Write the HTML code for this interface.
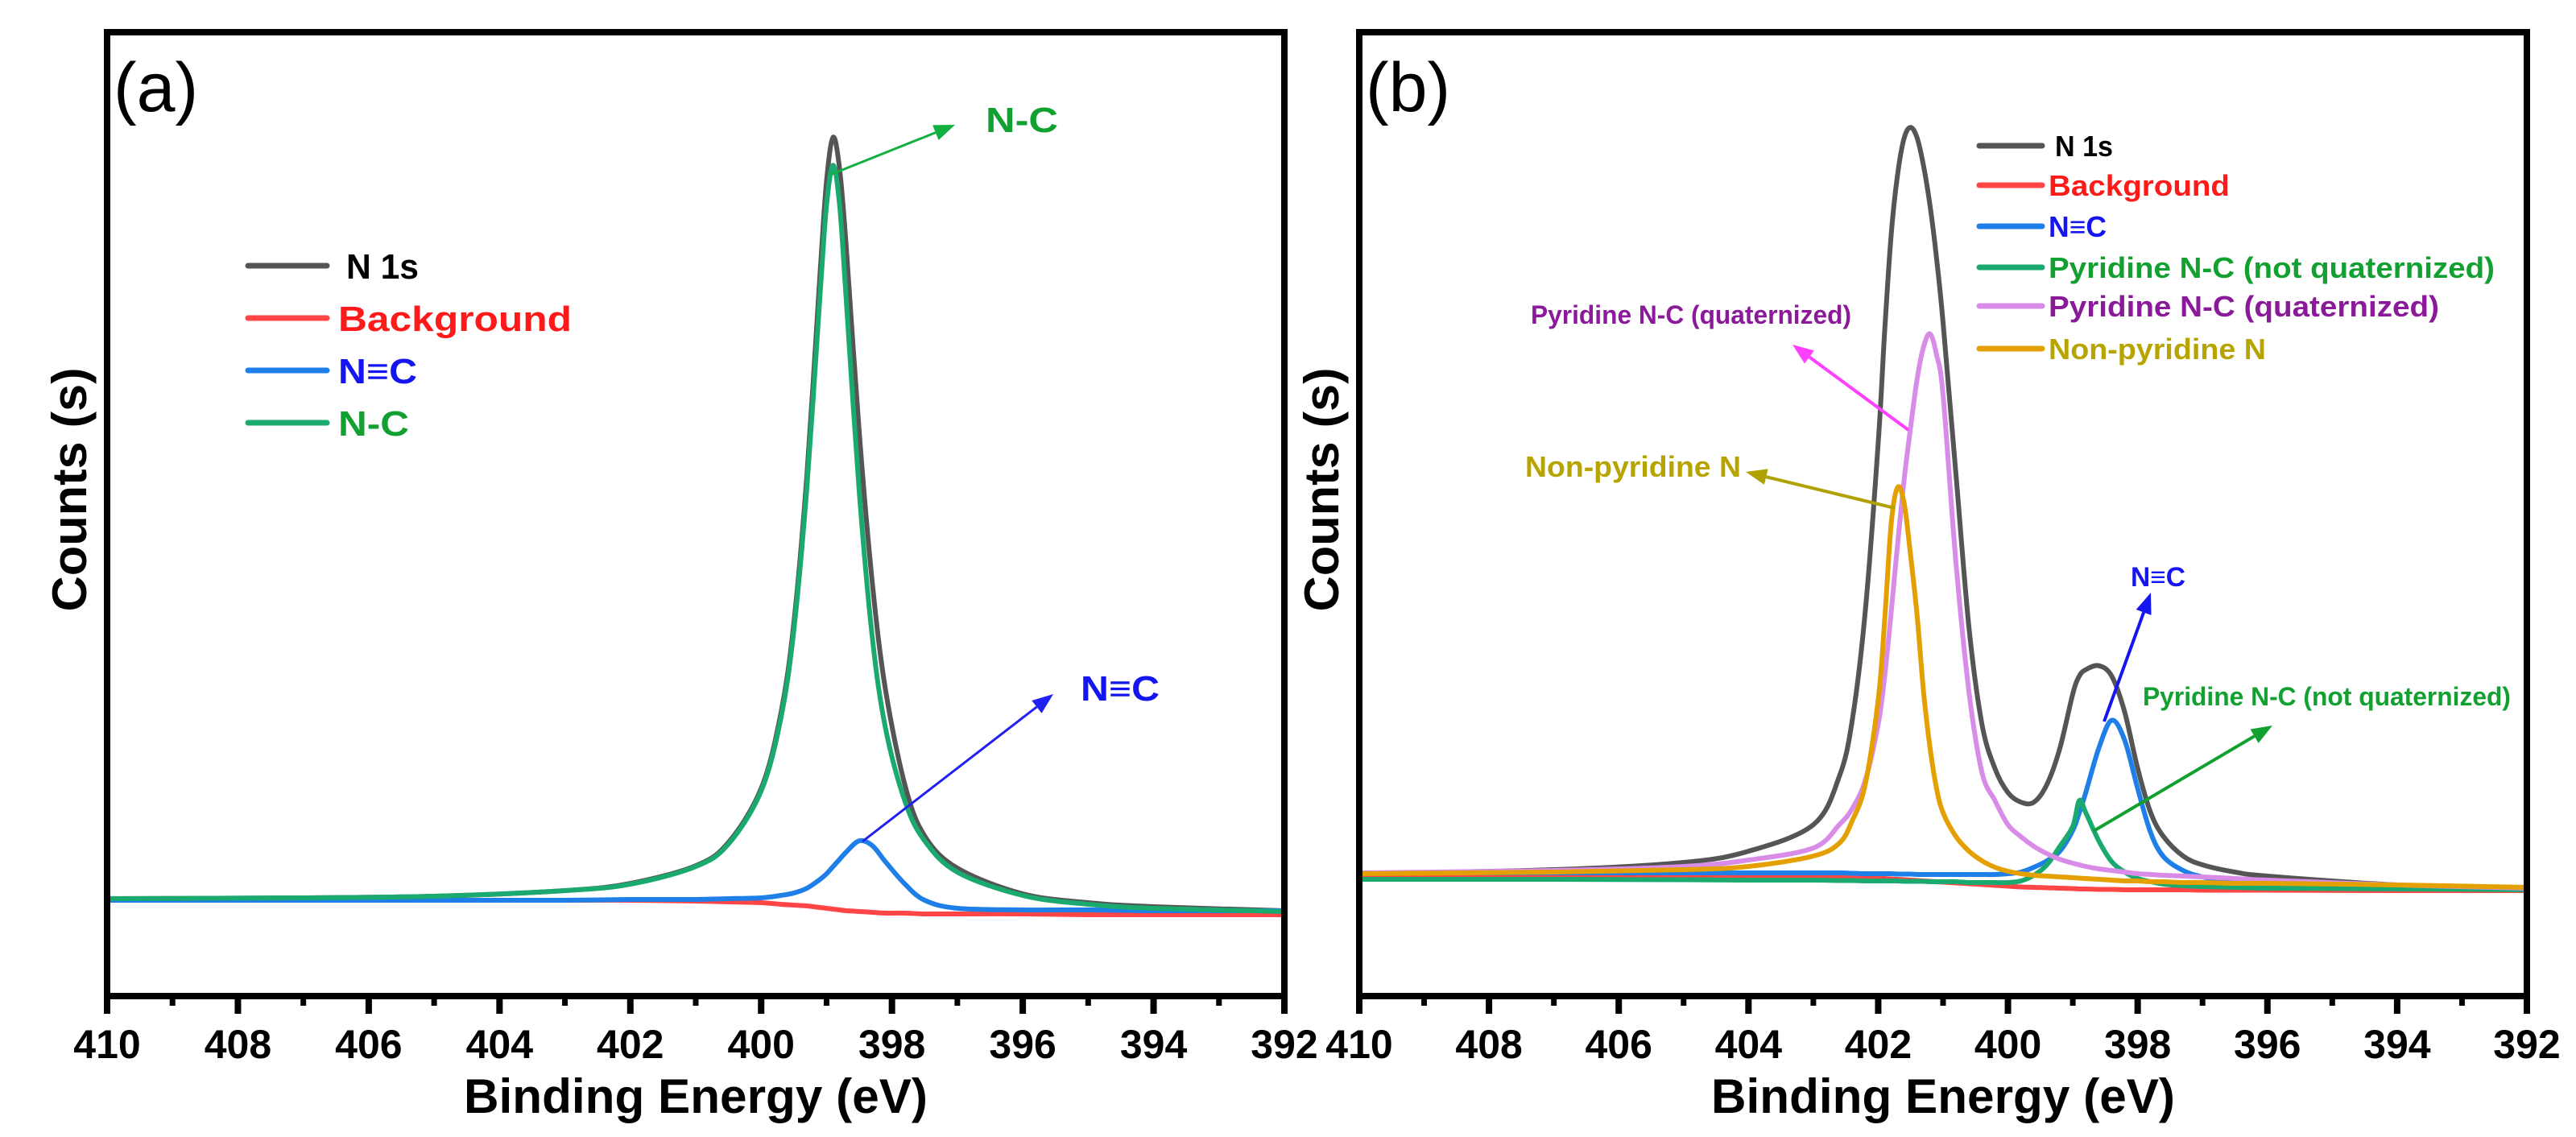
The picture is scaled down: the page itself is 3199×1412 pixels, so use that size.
<!DOCTYPE html>
<html><head><meta charset="utf-8"><style>
html,body{margin:0;padding:0;background:#fff;}
svg{display:block;font-family:"Liberation Sans",Arial,sans-serif;}
</style></head><body>
<svg id="fig" width="3199" height="1412" viewBox="0 0 3199 1412" xmlns="http://www.w3.org/2000/svg">
<g id="panelA"></g>
<g id="panelB"></g>
</svg>
<script>
// ---------- Panel (a) data ----------
const eA = [410,407,405,403,402,401,400.5,400,399.7,399.5,399.3,399.1,399.0,398.9,398.8,398.7,398.5,398.3,398.1,397.8,397.5,397,396,395,394,392];
const a_n1s = [0.2,0.3,0.5,1.2,2.1,4.3,7.2,13.9,23.2,34.5,53.0,77.9,89.5,95.0,91.0,81.5,58.2,39.5,26.3,14.3,8.0,4.0,0.8,-0.3,-0.8,-1.3];
const a_bg = [0,0,0,0,0,-0.1,-0.2,-0.3,-0.5,-0.6,-0.7,-0.9,-1.0,-1.1,-1.2,-1.3,-1.4,-1.5,-1.6,-1.6,-1.7,-1.7,-1.7,-1.8,-1.8,-1.8];
const a_nc3 = [0,0,0,0,0.1,0.1,0.2,0.3,0.6,0.9,1.5,2.6,3.3,4.2,5.1,6.0,7.4,6.8,4.8,2.0,0.0,-1.0,-1.2,-1.2,-1.3,-1.3];
const a_nc = [0.2,0.3,0.5,1.2,2.0,4.2,7.0,13.6,22.6,33.6,51.5,75.3,86.5,91.5,86.5,74.9,50.8,32.7,21.5,12.3,7.4,3.5,0.6,-0.5,-1.0,-1.4];

// ---------- Panel (b) data ----------
const eB = [410,407,405,404,403,402.6,402.4,402.2,402.0,401.9,401.8,401.7,401.6,401.5,401.4,401.3,401.2,401.1,401.0,400.8,400.6,400.4,400.2,400.0,399.8,399.6,399.4,399.2,399.0,398.9,398.8,398.6,398.4,398.2,398.0,397.8,397.6,397.3,397.0,396.5,396,394,392];
const b_n1s = [0.4,0.9,1.8,3.2,6.5,12.5,19.5,33,54,68,80,87.5,92,93.3,92,88.5,83.5,77,69,50,31,19,13.5,10.5,9.3,9.3,11.5,16,22.8,25,25.8,26.3,25,20.5,13.5,8,5,2.6,1.5,0.6,0.1,-1.0,-1.5];
const b_bg = [0,0,0,0,0,0,-0.1,-0.1,-0.2,-0.2,-0.25,-0.3,-0.35,-0.4,-0.45,-0.5,-0.55,-0.6,-0.65,-0.75,-0.85,-0.95,-1.05,-1.15,-1.25,-1.3,-1.35,-1.4,-1.45,-1.5,-1.5,-1.55,-1.55,-1.6,-1.6,-1.6,-1.6,-1.6,-1.65,-1.65,-1.65,-1.7,-1.7];
const b_nc3 = [0.5,0.5,0.5,0.5,0.5,0.5,0.45,0.4,0.4,0.4,0.4,0.35,0.35,0.35,0.3,0.3,0.3,0.3,0.3,0.3,0.3,0.3,0.3,0.4,0.6,1.2,2.0,3.2,5.8,8,10.5,16,19.5,17,11,5.5,2.5,0.8,0.0,-0.8,-1.1,-1.4,-1.5];
const b_pyrNQ = [-0.3,-0.3,-0.35,-0.4,-0.4,-0.45,-0.45,-0.5,-0.5,-0.5,-0.5,-0.5,-0.55,-0.55,-0.55,-0.55,-0.6,-0.6,-0.6,-0.6,-0.7,-0.7,-0.7,-0.7,-0.5,0.2,1.5,3.8,6.3,9.5,8.0,4.5,1.9,0.6,-0.2,-0.6,-0.9,-1.1,-1.2,-1.3,-1.4,-1.5,-1.6];
const b_pyrQ = [0.5,0.8,1.3,2.1,3.6,6.5,8.5,12,19,25,33,41.5,49.5,56,62,66,67.6,65,60,39,23,13,9.5,6.5,5,3.8,2.9,2.2,1.7,1.5,1.3,1.0,0.8,0.6,0.4,0.3,0.2,0.1,0,-0.2,-0.4,-1.0,-1.4];
const b_nonPyr = [0.4,0.6,0.9,1.3,2.6,4.2,7,11.5,22,32,44,48.5,46.5,40,32.5,23,16,11,8,5,3.2,2,1.2,0.7,0.4,0.2,0.1,0,-0.1,-0.15,-0.2,-0.3,-0.4,-0.5,-0.5,-0.6,-0.6,-0.7,-0.7,-0.8,-0.8,-1.0,-1.3];

const xTicks = [410,408,406,404,402,400,398,396,394,392];
const NS = "http://www.w3.org/2000/svg";

function mk(parent, tag, attrs, text){
  const el = document.createElementNS(NS, tag);
  for (const k in attrs) el.setAttribute(k, attrs[k]);
  if (text !== undefined) el.textContent = text;
  parent.appendChild(el);
  return el;
}
function smoothPath(pts){
  let d = "M" + pts[0][0].toFixed(1) + "," + pts[0][1].toFixed(1);
  for (let i=0;i<pts.length-1;i++){
    const p0 = pts[Math.max(0,i-1)], p1 = pts[i], p2 = pts[i+1], p3 = pts[Math.min(pts.length-1,i+2)];
    const c1x = p1[0]+(p2[0]-p0[0])/6, c1y = p1[1]+(p2[1]-p0[1])/6;
    const c2x = p2[0]-(p3[0]-p1[0])/6, c2y = p2[1]-(p3[1]-p1[1])/6;
    d += " C"+c1x.toFixed(1)+","+c1y.toFixed(1)+" "+c2x.toFixed(1)+","+c2y.toFixed(1)+" "+p2[0].toFixed(1)+","+p2[1].toFixed(1);
  }
  return d;
}

function drawPanel(g, cfg){
  const L=cfg.left, R=cfg.right, T=40, B=1237;
  const xs = e => L + (410 - e) / 18 * (R - L);
  const ys = v => cfg.base - v * 9.975;
  cfg.series.forEach(s => {
    const pts = cfg.e.map((e,i)=>[xs(e), ys(s.vals[i])]);
    const p = mk(g, "path", {d: smoothPath(pts), fill:"none", stroke:s.color, "stroke-width":6, "stroke-linejoin":"round"});
    
    
  });
  const fr = mk(g, "rect", {x:L, y:T, width:R-L, height:B-T, fill:"none", stroke:"#000", "stroke-width":8});
  
  
  for (let e=410; e>=392; e-=1){
    const major = (e % 2 === 0);
    const t = mk(g, "line", {x1:xs(e), x2:xs(e), y1:B, y2:B+(major?22:12), stroke:"#000", "stroke-width":major?8:7});
    
    
  }
  xTicks.forEach(v => {
    const t = mk(g, "text", {x:xs(v), y:1314, "text-anchor":"middle", "font-size":50, "font-weight":"bold", fill:"#000"}, String(v));
    
    
  });
  const xt = mk(g, "text", {x:(L+R)/2, y:1382, "text-anchor":"middle", "font-size":60, "font-weight":"bold", fill:"#000", textLength:576, lengthAdjust:"spacingAndGlyphs"}, "Binding Energy (eV)");
  
  
  const yt = mk(g, "text", {x:0, y:0, transform:"translate("+(L-26)+",608) rotate(-90)", "text-anchor":"middle", "font-size":60, "font-weight":"bold", fill:"#000", textLength:303, lengthAdjust:"spacingAndGlyphs"}, "Counts (s)");
  
  
  const pl = mk(g, "text", {x:L+8, y:138, "font-size":86, fill:"#000"}, cfg.label);
  
  
}

function legend(g, x1, x2, tx, rows, fs, lens){
  rows.forEach((r,i)=>{
    const ln = mk(g, "line", {x1:x1, x2:x2, y1:r.y, y2:r.y, stroke:r.line, "stroke-width":7, "stroke-linecap":"round"});
    
    
    const attrs = {x:r.tx || tx, y:r.y+fs*0.36, "font-size":fs, "font-weight":"bold", fill:r.text};
    if (lens && lens[i]) { attrs.textLength = lens[i]; attrs.lengthAdjust = "spacingAndGlyphs"; }
    const t = mk(g, "text", attrs, r.label);
    
    
  });
}
function arrow(g, x1,y1,x2,y2,color,w,name){
  const ang = Math.atan2(y2-y1, x2-x1), hl = 26, hw = 10;
  const bx = x2 - hl*Math.cos(ang), by = y2 - hl*Math.sin(ang);
  const ln = mk(g, "line", {x1:x1,y1:y1,x2:bx,y2:by,stroke:color,"stroke-width":w});
  
  
  const px = -Math.sin(ang)*hw, py = Math.cos(ang)*hw;
  const hd = mk(g, "polygon", {points: x2+","+y2+" "+(bx+px)+","+(by+py)+" "+(bx-px)+","+(by-py), fill:color});
  
  
}
function label(g, x, y, txt, color, fs, len, name){
  const attrs = {x:x, y:y, "font-size":fs, "font-weight":"bold", fill:color};
  if (len) { attrs.textLength = len; attrs.lengthAdjust = "spacingAndGlyphs"; }
  const t = mk(g, "text", attrs, txt);
  
  
}

const gA = document.getElementById("panelA");
drawPanel(gA, {left:133, right:1595, base:1118, e:eA, label:"(a)", series:[
  {name:"background-line", vals:a_bg, color:"#ff4545"},
  {name:"n1s-line", vals:a_n1s, color:"#555555"},
  {name:"nc-triple-line", vals:a_nc3, color:"#1f7fe8"},
  {name:"nc-line", vals:a_nc, color:"#1aaa70"}
]});
legend(gA, 308, 406, 420, [
  {y:330, line:"#555555", text:"#000", label:"N 1s", tx:430},
  {y:395, line:"#ff4545", text:"#ff1a1a", label:"Background"},
  {y:460, line:"#1f7fe8", text:"#1515f0", label:"N\u2261C"},
  {y:525, line:"#1aaa70", text:"#12a030", label:"N-C"}
], 44, [90, 290, 98, 88]);
arrow(gA, 1031, 217, 1186, 155, "#12b040", 3, "nc-annotation-arrow");
label(gA, 1224, 164, "N-C", "#12a030", 44, 90, "nc-annotation");
arrow(gA, 1071, 1045, 1308, 862, "#2020f0", 3, "nc-triple-annotation-arrow");
label(gA, 1342, 870, "N\u2261C", "#1515f0", 44, 98, "nc-triple-annotation");

const gB = document.getElementById("panelB");
drawPanel(gB, {left:1688, right:3138, base:1089, e:eB, label:"(b)", series:[
  {name:"background-line", vals:b_bg, color:"#ff4545"},
  {name:"n1s-line", vals:b_n1s, color:"#555555"},
  {name:"nc-triple-line", vals:b_nc3, color:"#1f7fe8"},
  {name:"pyridine-not-quaternized-line", vals:b_pyrNQ, color:"#1aaa70"},
  {name:"pyridine-quaternized-line", vals:b_pyrQ, color:"#d88ce8"},
  {name:"non-pyridine-line", vals:b_nonPyr, color:"#e3a000"}
]});
legend(gB, 2458, 2536, 2544, [
  {y:181, line:"#555555", text:"#000", label:"N 1s", tx:2552},
  {y:230, line:"#ff4545", text:"#ff1a1a", label:"Background"},
  {y:281, line:"#1f7fe8", text:"#1515f0", label:"N\u2261C"},
  {y:332, line:"#1aaa70", text:"#12a030", label:"Pyridine N-C (not quaternized)"},
  {y:380, line:"#d88ce8", text:"#8a1a9a", label:"Pyridine N-C (quaternized)"},
  {y:433, line:"#e3a000", text:"#b8a400", label:"Non-pyridine N"}
], 36, [72, 225, 72, 554, 485, 270]);
arrow(gB, 2370, 534, 2226, 428, "#ff40ff", 4, "pyridine-quaternized-arrow");
label(gB, 1901, 402, "Pyridine N-C (quaternized)", "#8a1a9a", 32, 398, "pyridine-quaternized-annotation");
arrow(gB, 2353, 631, 2168, 586, "#b0a000", 4, "non-pyridine-arrow");
label(gB, 1894, 592, "Non-pyridine N", "#b8a400", 36, 268, "non-pyridine-annotation");
arrow(gB, 2613, 896, 2671, 736, "#1515f0", 4, "nc-triple-arrow");
label(gB, 2646, 728, "N\u2261C", "#1515f0", 34, 68, "nc-triple-annotation");
arrow(gB, 2600, 1032, 2822, 901, "#12a030", 4, "pyridine-not-quaternized-arrow");
label(gB, 2661, 876, "Pyridine N-C (not quaternized)", "#12a030", 32, 457, "pyridine-not-quaternized-annotation");
</script>
</body></html>
